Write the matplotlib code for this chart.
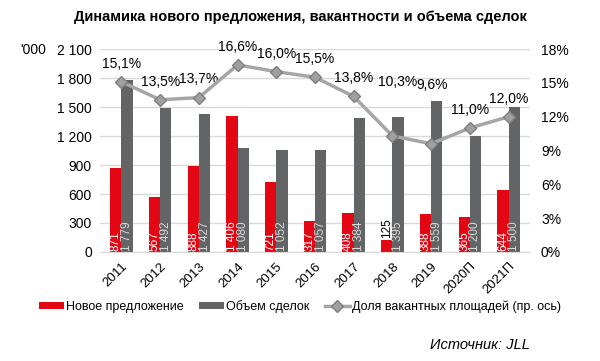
import numpy as np
import matplotlib.pyplot as plt

plt.rcParams['font.family'] = ['Liberation Sans', 'DejaVu Sans']

years = ['2011', '2012', '2013', '2014', '2015', '2016', '2017', '2018', '2019', '2020П', '2021П']
new_supply = [871, 567, 888, 1406, 721, 317, 408, 125, 388, 365, 644]
deals = [1779, 1492, 1427, 1080, 1052, 1057, 1384, 1395, 1559, 1200, 1500]
vacancy = [15.1, 13.5, 13.7, 16.6, 16.0, 15.5, 13.8, 10.3, 9.6, 11.0, 12.0]

red = '#e30613'
grey = '#636466'
line_c = '#a6a6a6'

def fmt(v):
    return '{:,}'.format(v).replace(',', ' ')

fig = plt.figure(figsize=(6, 3.61), dpi=100)
ax1 = fig.add_axes([0.167, 0.302, 0.716, 0.562])
x = np.arange(len(years))
w = 0.29

ax1.bar(x - w/2, new_supply, w, color=red, label='Новое предложение', zorder=2)
ax1.bar(x + w/2, deals, w, color=grey, label='Объем сделок', zorder=2)
ax1.set_ylim(0, 2100)
ax1.set_yticks(range(0, 2101, 300))
ax1.set_yticklabels([fmt(v) for v in range(0, 2101, 300)])
ax1.set_xlim(-0.55, len(years) - 0.45)
ax1.grid(axis='y', color='#d9d9d9', linewidth=1, zorder=0)
ax1.set_axisbelow(True)
for s in ax1.spines.values():
    s.set_visible(False)
ax1.spines['bottom'].set_visible(True)
ax1.spines['bottom'].set_color('#d9d9d9')
ax1.tick_params(length=0, labelsize=10, pad=6)
ax1.set_xticks(x)
ax1.set_xticklabels(years, rotation=45, ha='right', rotation_mode='anchor', fontsize=9.5)

for i in range(len(years)):
    if new_supply[i] > 250:
        ax1.text(x[i] - w/2, 10, fmt(new_supply[i]), rotation=90, ha='center', va='bottom',
                 color='white', fontsize=8.5, zorder=3)
    else:
        ax1.text(x[i] - w/2, new_supply[i] + 20, fmt(new_supply[i]), rotation=90, ha='center',
                 va='bottom', color='black', fontsize=8.5, zorder=3)
    ax1.text(x[i] + w/2, 10, fmt(deals[i]), rotation=90, ha='center', va='bottom',
             color='#d9d9d9', fontsize=8.5, zorder=3)

ax2 = ax1.twinx()
ax2.plot(x, vacancy, color=line_c, linewidth=2.5, marker='D', markersize=6,
         markerfacecolor='#a0a0a0', markeredgecolor='#7f7f7f', label='Доля вакантных площадей (пр. ось)', zorder=4)
ax2.set_ylim(0, 18)
ax2.set_yticks(range(0, 19, 3))
ax2.set_yticklabels(['{}%'.format(v) for v in range(0, 19, 3)])
for s in ax2.spines.values():
    s.set_visible(False)
ax2.tick_params(length=0, labelsize=10, pad=8)
# label offsets (points) for the vacancy labels
offsets = {'2018': (4, 34), '2019': (1, 37)}
for i, v in enumerate(vacancy):
    off = offsets.get(years[i], (0, 8))
    ax2.annotate('{:.1f}%'.format(v).replace('.', ','), (x[i], v), xytext=off,
                 textcoords='offset points', ha='center', va='bottom', fontsize=10)

fig.text(0.5, 0.953, 'Динамика нового предложения, вакантности и объема сделок',
         ha='center', va='center', fontsize=10.5, fontweight='bold')
fig.text(0.033, 0.862, "'000", fontsize=10, va='center')

h1, l1 = ax1.get_legend_handles_labels()
h2, l2 = ax2.get_legend_handles_labels()
fig.legend(h1 + h2, l1 + l2, loc='center', bbox_to_anchor=(0.5, 0.15), ncol=3, frameon=False,
           fontsize=9, handlelength=2.0, handleheight=0.5, handletextpad=0.2, columnspacing=1.2)
fig.text(0.8, 0.045, 'Источник: JLL', fontsize=10.5, style='italic', ha='center', va='center')

fig.savefig('out.png', dpi=100)
